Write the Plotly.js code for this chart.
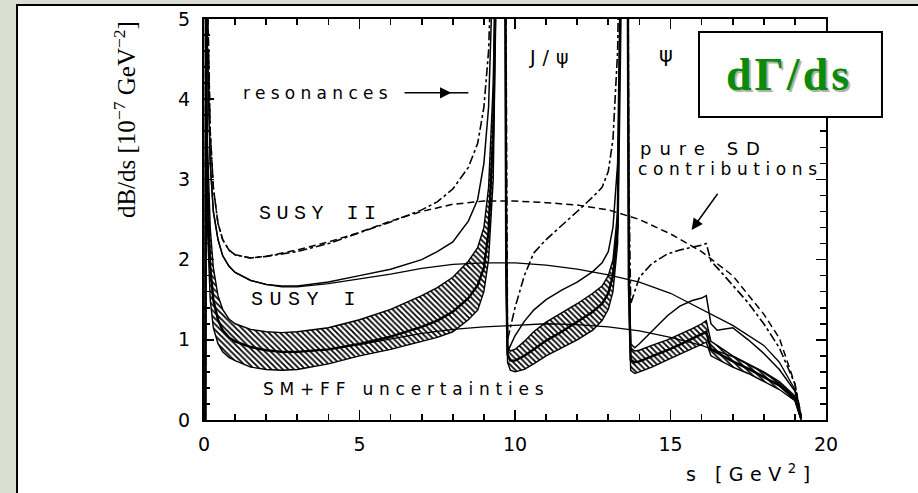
<!DOCTYPE html>
<html><head><meta charset="utf-8">
<script src="https://cdn.plot.ly/plotly-3.0.1.min.js"></script>
<style>html,body{margin:0;padding:0;background:#d9dfd0;overflow:hidden;} #chart{width:918px;height:493px;}</style>
</head><body><div id="chart"></div>
<script>
// ---- data (s in GeV^2, dB/ds in 1e-7 GeV^-2) ----
// segment grids for curves containing the J/psi and psi' resonances
const S1 = [0.045, 0.06, 0.1, 0.2, 0.3, 0.45, 0.6, 0.8, 1.0, 1.5, 2.0, 2.5, 3.0, 4.0, 5.0, 6.0, 7.0, 7.5, 8.0, 8.5, 8.8, 9.0, 9.15, 9.3, 9.4];
const S2 = [9.68, 9.72, 9.76, 9.85, 10.0, 10.3, 10.6, 11.0, 11.5, 12.0, 12.5, 12.8, 13.0, 13.15, 13.3, 13.4];
const S3 = [13.62, 13.66, 13.72, 13.85, 14.0, 14.4, 14.9, 15.3, 15.7, 16.0, 16.15, 16.3, 16.5, 17.0, 17.5, 18.0, 18.5, 19.0, 19.2];

// SM + form-factor uncertainty band (lower / central / upper)
const smLow1 = [0, 4.2, 2.5, 1.5, 1.15, 0.95, 0.85, 0.78, 0.74, 0.66, 0.63, 0.62, 0.63, 0.7, 0.8, 0.88, 0.98, 1.03, 1.1, 1.25, 1.37, 1.6, 2.0, 3.0, 5.5];
const smMid1 = [0, 5.0, 3.0, 1.9, 1.5, 1.25, 1.12, 1.03, 0.98, 0.91, 0.87, 0.85, 0.85, 0.88, 0.95, 1.04, 1.16, 1.24, 1.35, 1.52, 1.68, 1.9, 2.35, 3.6, 6.0];
const smUp1  = [0, 5.8, 3.6, 2.4, 1.9, 1.55, 1.38, 1.26, 1.2, 1.13, 1.10, 1.09, 1.10, 1.15, 1.25, 1.38, 1.55, 1.65, 1.78, 1.98, 2.15, 2.4, 2.9, 4.2, 6.5];
const smLow2 = [6.0, 1.6, 0.72, 0.62, 0.6, 0.63, 0.7, 0.8, 0.9, 1.0, 1.12, 1.24, 1.38, 1.6, 2.2, 5.0];
const smMid2 = [6.2, 1.8, 0.82, 0.74, 0.74, 0.8, 0.88, 0.99, 1.1, 1.22, 1.35, 1.45, 1.58, 1.8, 2.4, 5.2];
const smUp2  = [6.5, 2.0, 0.92, 0.86, 0.88, 0.98, 1.1, 1.22, 1.33, 1.45, 1.58, 1.67, 1.8, 2.0, 2.6, 5.5];
const smLow3 = [6.0, 1.5, 0.62, 0.58, 0.6, 0.66, 0.75, 0.82, 0.89, 0.94, 0.97, 0.8, 0.76, 0.66, 0.58, 0.48, 0.38, 0.24, 0.0];
const smMid3 = [6.2, 1.7, 0.75, 0.72, 0.73, 0.79, 0.87, 0.94, 1.01, 1.07, 1.1, 0.88, 0.84, 0.73, 0.64, 0.54, 0.43, 0.27, 0.02];
const smUp3  = [6.5, 2.0, 0.9, 0.86, 0.87, 0.93, 1.0, 1.07, 1.14, 1.2, 1.24, 0.98, 0.93, 0.8, 0.7, 0.6, 0.48, 0.3, 0.05];

// SUSY I with resonances
const susy1Full1 = [0, 7, 4.8, 3.2, 2.6, 2.25, 2.05, 1.92, 1.84, 1.74, 1.69, 1.67, 1.67, 1.72, 1.8, 1.88, 2.0, 2.1, 2.22, 2.48, 2.75, 3.2, 3.9, 5.5, 7];
const susy1Full2 = [7, 2.5, 0.85, 0.92, 1.05, 1.23, 1.37, 1.5, 1.62, 1.72, 1.85, 1.96, 2.1, 2.4, 3.2, 6];
const susy1Full3 = [7, 2.0, 0.95, 0.9, 0.95, 1.1, 1.3, 1.42, 1.49, 1.52, 1.55, 1.2, 1.12, 1.15, 1.0, 0.83, 0.63, 0.36, 0.05];

// SUSY II with resonances
const susy2Full1 = [0, 8, 5.5, 3.6, 2.9, 2.45, 2.25, 2.12, 2.06, 2.02, 2.04, 2.07, 2.1, 2.2, 2.33, 2.47, 2.62, 2.72, 2.88, 3.15, 3.45, 3.9, 4.6, 6.0, 7.5];
const susy2Full2 = [7.5, 3.0, 1.0, 1.15, 1.4, 1.8, 2.08, 2.25, 2.42, 2.6, 2.78, 2.9, 3.1, 3.5, 4.6, 7];
const susy2Full3 = [7.5, 3.0, 1.45, 1.6, 1.78, 1.95, 2.07, 2.12, 2.15, 2.18, 2.2, 1.98, 1.9, 1.68, 1.46, 1.2, 0.9, 0.45, 0.05];

// pure short-distance (SD) contributions, whole range
const SD = [0.045, 0.06, 0.1, 0.2, 0.3, 0.45, 0.6, 0.8, 1.0, 1.5, 2.0, 2.5, 3.0, 4.0, 5.0, 6.0, 7.0, 8.0, 9.0, 10.0, 11.0, 12.0, 13.0, 14.0, 15.0, 16.0, 17.0, 18.0, 18.5, 19.0, 19.2];
const smSD    = [0, 5.0, 3.0, 1.9, 1.5, 1.25, 1.12, 1.03, 0.98, 0.91, 0.87, 0.85, 0.85, 0.88, 0.94, 1.01, 1.08, 1.13, 1.16, 1.18, 1.2, 1.19, 1.16, 1.11, 1.03, 0.93, 0.79, 0.59, 0.46, 0.28, 0.04];
const susy1SD = [0, 7, 4.8, 3.2, 2.6, 2.25, 2.05, 1.92, 1.84, 1.74, 1.69, 1.66, 1.66, 1.7, 1.76, 1.82, 1.89, 1.94, 1.96, 1.96, 1.93, 1.88, 1.81, 1.72, 1.58, 1.38, 1.18, 0.93, 0.72, 0.38, 0.05];
const susy2SD = [0, 8, 5.5, 3.6, 2.9, 2.45, 2.25, 2.12, 2.06, 2.02, 2.04, 2.08, 2.12, 2.22, 2.34, 2.48, 2.6, 2.69, 2.73, 2.73, 2.71, 2.68, 2.62, 2.5, 2.32, 2.1, 1.8, 1.32, 1.02, 0.45, 0.05];

// axis ticks
const xTicks = [0, 5, 10, 15, 20];
const yTicks = [0, 1, 2, 3, 4, 5];

// ---- build traces ----
const traces = [];
function poly(s, lo, hi) {
  return { x: s.concat(s.slice().reverse()), y: lo.concat(hi.slice().reverse()) };
}
const pat = { shape: '\\', size: 4, solidity: 0.45, fgcolor: '#000', bgcolor: '#fff' };
[[S1, smLow1, smUp1], [S2, smLow2, smUp2], [S3, smLow3, smUp3]].forEach(function (b) {
  const p = poly(b[0], b[1], b[2]);
  traces.push({ type: 'scatter', mode: 'lines', x: p.x, y: p.y, fill: 'toself', fillcolor: '#fff',
    fillpattern: pat, line: { color: '#000', width: 1.4 }, hoverinfo: 'skip' });
});
function line(x, y, w, dash) {
  traces.push({ type: 'scatter', mode: 'lines', x: x, y: y, line: { color: '#000', width: w, dash: dash || 'solid' }, hoverinfo: 'skip' });
}
// SD curves
line(SD, smSD, 1.3);
line(SD, susy1SD, 1.3);
line(SD, susy2SD, 1.5, '7px,4px');
// SM central
line(S1, smMid1, 2.4); line(S2, smMid2, 2.4); line(S3, smMid3, 2.4);
// SUSY I full
line(S1, susy1Full1, 1.5); line(S2, susy1Full2, 1.5); line(S3, susy1Full3, 1.5);
// SUSY II full
line(S1, susy2Full1, 1.6, 'dashdot'); line(S2, susy2Full2, 1.6, 'dashdot'); line(S3, susy2Full3, 1.6, 'dashdot');

function ls(t, px) { return '<span style="letter-spacing:' + px + 'px">' + t + '</span>'; }
const txt = { family: 'DejaVu Sans', size: 17, color: '#000' };
const mono = { family: 'Liberation Mono', size: 20, color: '#000' };

const layout = {
  width: 918, height: 493, autosize: false,
  margin: { l: 204, r: 92, t: 19, b: 73, pad: 0 },
  paper_bgcolor: '#d9dfd0', plot_bgcolor: 'rgba(0,0,0,0)',
  showlegend: false,
  xaxis: {
    range: [0, 20], tickvals: xTicks, ticktext: xTicks.map(String),
    showline: true, linecolor: '#000', linewidth: 2, mirror: 'ticks',
    ticks: 'inside', ticklen: 10, tickwidth: 1.6, tickcolor: '#000',
    minor: { dtick: 1, tick0: 0, ticks: 'inside', ticklen: 6, tickwidth: 1.6, tickcolor: '#000' },
    showgrid: false, zeroline: false, ticklabelstandoff: 6,
    tickfont: { family: 'DejaVu Sans', size: 19, color: '#000' }
  },
  yaxis: {
    range: [0, 5], tickvals: yTicks, ticktext: yTicks.map(String),
    showline: true, linecolor: '#000', linewidth: 2, mirror: 'ticks',
    ticks: 'inside', ticklen: 10, tickwidth: 1.6, tickcolor: '#000',
    minor: { dtick: 0.2, tick0: 0, ticks: 'inside', ticklen: 6, tickwidth: 1.6, tickcolor: '#000' },
    showgrid: false, zeroline: false, ticklabelstandoff: 8,
    tickfont: { family: 'DejaVu Sans', size: 19, color: '#000' }
  },
  shapes: [
    // white slide panel
    { type: 'rect', xref: 'paper', yref: 'paper', x0: -0.3006, x1: 1.3, y0: -0.4, y1: 1.0349,
      fillcolor: '#fff', line: { color: '#000', width: 2 }, layer: 'below' },
    // tail of the resonance arrow
    { type: 'line', xref: 'x', yref: 'y', x0: 7.8, x1: 8.5, y0: 4.08, y1: 4.08, line: { color: '#000', width: 1.5 } },
    // dGamma/ds box
    { type: 'rect', xref: 'paper', yref: 'paper', x0: 0.7958, x1: 1.090, y0: 0.7556, y1: 0.9676,
      fillcolor: '#fff', line: { color: '#000', width: 2 }, layer: 'above' }
  ],
  annotations: [
    { xref: 'x', yref: 'y', x: 3.67, y: 4.08, text: ls('resonances', 5.3), showarrow: false, font: txt },
    { xref: 'x', yref: 'y', x: 7.95, y: 4.08, ax: 6.4, ay: 4.08, axref: 'x', ayref: 'y', text: '',
      showarrow: true, arrowhead: 2, arrowsize: 1.5, arrowwidth: 1.5, arrowcolor: '#000' },
    { xref: 'x', yref: 'y', x: 11.21, y: 4.53, text: ls('J/ψ', 7), showarrow: false, font: { family: 'DejaVu Sans', size: 19, color: '#000' } },
    { xref: 'x', yref: 'y', x: 14.85, y: 4.55, text: 'ψ', showarrow: false, font: { family: 'DejaVu Sans', size: 21, color: '#000' } },
    { xref: 'x', yref: 'y', x: 3.74, y: 2.58, text: ls('SUSY II', 5.5), showarrow: false, font: mono },
    { xref: 'x', yref: 'y', x: 3.29, y: 1.50, text: ls('SUSY I', 6.5), showarrow: false, font: mono },
    { xref: 'x', yref: 'y', x: 6.51, y: 0.39, text: ls('SM+FF uncertainties', 5.8), showarrow: false, font: txt },
    { xref: 'x', yref: 'y', x: 13.95, y: 3.38, xanchor: 'left', text: ls('pure SD', 8), showarrow: false, font: { family: 'DejaVu Sans', size: 18, color: '#000' } },
    { xref: 'x', yref: 'y', x: 13.88, y: 3.13, xanchor: 'left', text: ls('contributions', 5.6), showarrow: false, font: txt },
    { xref: 'x', yref: 'y', x: 15.68, y: 2.37, ax: 16.55, ay: 2.84, axref: 'x', ayref: 'y', text: '',
      showarrow: true, arrowhead: 2, arrowsize: 1.5, arrowwidth: 1.5, arrowcolor: '#000' },
    // axis titles
    { xref: 'paper', yref: 'paper', x: -0.127, y: 0.748, xanchor: 'center', yanchor: 'middle', textangle: -90, showarrow: false,
      text: 'dB/ds [10<sup>−7</sup> GeV<sup>−2</sup>]', font: { family: 'Liberation Serif', size: 25, color: '#000' } },
    { xref: 'paper', yref: 'paper', x: 0.881, y: -0.132, xanchor: 'center', yanchor: 'middle', showarrow: false,
      text: ls('s [GeV<sup>2</sup>]', 6.5), font: { family: 'DejaVu Sans', size: 19, color: '#000' } },
    // dGamma/ds label
    { xref: 'paper', yref: 'paper', x: 0.940, y: 0.862, xanchor: 'center', yanchor: 'middle', showarrow: false,
      text: ls('<b>dΓ/ds</b>', 3),
      font: { family: 'Liberation Serif', size: 46, color: '#0b8a0b', shadow: '2px 2px 1px #a8b0a8' } }
  ]
};

Plotly.newPlot('chart', traces, layout, { staticPlot: true, displayModeBar: false });
</script>
</body></html>
